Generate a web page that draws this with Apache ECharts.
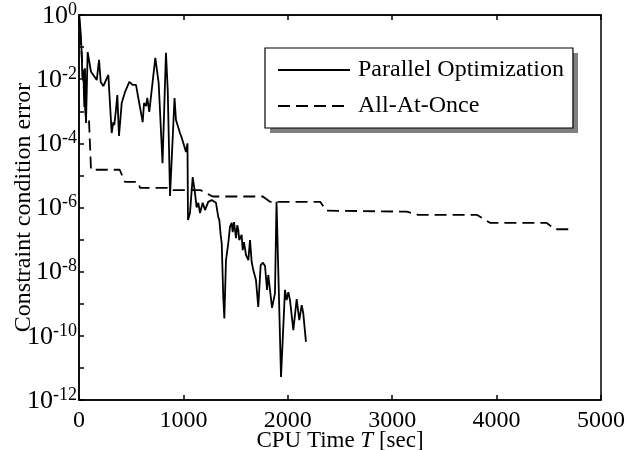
<!DOCTYPE html>
<html>
<head>
<meta charset="utf-8">
<script src="https://cdn.jsdelivr.net/npm/echarts@6/dist/echarts.min.js"></script>
<style>
  html, body { margin: 0; padding: 0; background: #fff; }
  #chart { width: 629px; height: 450px; }
</style>
</head>
<body>
<div id="chart"></div>
<script>
// CPU time [sec] and constraint condition error for the parallel optimization run
const parallelTime = [3, 16, 26, 32, 41, 51, 57, 67, 83, 115, 137, 170, 192, 208, 233, 281, 313, 329, 338, 354,
  367, 383, 409, 441, 482, 514, 546, 568, 610, 623, 642, 654, 673, 731, 763, 800, 833, 850, 872, 915,
  929, 945, 967, 984, 1025, 1039, 1044, 1063, 1089, 1111, 1127, 1143, 1159, 1185, 1207, 1238, 1271, 1312, 1334, 1344,
  1357, 1367, 1382, 1392, 1408, 1430, 1446, 1463, 1472, 1485, 1504, 1516, 1526, 1535, 1558, 1568, 1580, 1600, 1622, 1638,
  1654, 1670, 1695, 1717, 1740, 1762, 1782, 1801, 1813, 1849, 1877, 1892, 1935, 1973, 1989, 2005, 2021, 2053, 2085, 2110,
  2133, 2148, 2174];
const parallelError = [0.93, 0.28, 0.066, 0.011, 0.019, 1.35e-3, 0.022, 4.3e-4, 0.07, 0.017, 0.0135, 9.4e-3, 0.04, 8.2e-3, 6.1e-3, 0.0135, 2.1e-4, 4.6e-4, 3.7e-4, 1.1e-3,
  3.2e-3, 1.7e-4, 1.8e-3, 4.0e-3, 8.2e-3, 6.6e-3, 6.6e-3, 2.6e-3, 4.6e-4, 1.8e-3, 1.45e-3, 2.6e-3, 9.5e-4, 0.046, 7.6e-3, 2.4e-5, 0.066, 4.6e-3, 2.3e-6, 2.6e-3,
  5.3e-4, 4.6e-4, 2.1e-4, 1.5e-4, 5.4e-5, 1.0e-4, 4.1e-7, 6.7e-7, 8.9e-6, 2.8e-6, 1.0e-6, 1.4e-6, 6.7e-7, 1.4e-6, 8.3e-7, 1.5e-6, 1.7e-6, 1.4e-6, 5.0e-7, 4.1e-7,
  1.4e-7, 7.8e-8, 1.6e-9, 3.5e-10, 2.3e-8, 7.8e-8, 2.5e-7, 3.3e-7, 1.7e-7, 3.5e-7, 1.1e-7, 2.8e-7, 2.0e-7, 9.7e-8, 1.4e-7, 4.7e-8, 8.3e-8, 3.3e-8, 2.3e-8, 9.7e-8,
  2.0e-8, 1.1e-8, 5.5e-9, 7.9e-10, 1.6e-8, 1.9e-8, 1.5e-8, 2.7e-9, 7.9e-9, 7.4e-10, 2.1e-9, 1.5e-6, 5.2e-12, 2.7e-9, 1.3e-9, 2.3e-9, 1.3e-9, 1.5e-10, 1.4e-9, 3.1e-10,
  9.1e-10, 5.1e-10, 6.5e-11];

// CPU time [sec] and constraint condition error for the all-at-once run
const allAtOnceTime = [0, 65, 95, 115, 390, 440, 565, 585, 870, 900, 1160, 1280, 1760, 1830, 2310, 2370, 3140, 3250, 3810, 3940, 4480, 4560, 4720];
const allAtOnceError = [1.0, 6.5e-4, 6.0e-4, 1.5e-5, 1.5e-5, 6.3e-6, 6.3e-6, 4.1e-6, 4.1e-6, 3.5e-6, 3.5e-6, 2.2e-6, 2.2e-6, 1.5e-6, 1.5e-6, 8.0e-7, 7.4e-7, 5.9e-7, 5.9e-7, 3.3e-7, 3.3e-7, 2.1e-7, 2.1e-7];

const xTicks = [0, 1000, 2000, 3000, 4000, 5000];
const seriesNames = ['Parallel Optimization', 'All-At-Once'];

const FONT = 'Liberation Serif';

function pairs(xs, ys) {
  return xs.map((x, i) => [x, ys[i]]);
}

const chart = echarts.init(document.getElementById('chart'), null, { renderer: 'canvas' });

chart.setOption({
  animation: false,
  backgroundColor: '#fff',
  textStyle: { fontFamily: FONT },
  grid: {
    left: 79, right: 28, top: 15, bottom: 50,
    containLabel: false,
    outerBoundsMode: 'none',
    show: true, borderColor: '#000', borderWidth: 1.5, backgroundColor: 'transparent'
  },
  // flat grey drop shadow behind the legend box
  graphic: [{
    type: 'rect',
    left: 270, top: 53,
    shape: { width: 308, height: 80 },
    style: { fill: '#808080' },
    z: 1
  }],
  legend: {
    orient: 'vertical',
    left: 265, top: 48,
    padding: [10, 9, 10, 12],
    itemGap: 12,
    itemWidth: 72,
    itemHeight: 14,
    backgroundColor: '#fff',
    borderColor: '#000',
    borderWidth: 1.2,
    borderRadius: 0,
    itemStyle: { opacity: 0 },
    textStyle: { fontFamily: FONT, fontSize: 24, color: '#000', padding: [0, 0, 0, 3] },
    data: seriesNames
  },
  xAxis: [{
    type: 'value',
    min: xTicks[0], max: xTicks[xTicks.length - 1], interval: 1000,
    position: 'bottom',
    name: '{a|CPU Time }{i|T}{a| [sec]}',
    nameLocation: 'middle',
    nameGap: 29,
    nameMoveOverlap: false,
    nameTextStyle: {
      rich: {
        a: { fontFamily: FONT, fontSize: 23, color: '#000' },
        i: { fontFamily: FONT, fontSize: 23, color: '#000', fontStyle: 'italic' }
      }
    },
    axisLine: { show: true, lineStyle: { color: '#000', width: 1.5 } },
    axisTick: { show: true, inside: true, length: 5, lineStyle: { color: '#000', width: 1.5 } },
    axisLabel: { fontFamily: FONT, fontSize: 24, color: '#000', margin: 9, formatter: v => String(v) },
    splitLine: { show: false }
  }, {
    type: 'value',
    min: xTicks[0], max: xTicks[xTicks.length - 1], interval: 1000,
    position: 'top',
    axisLine: { show: true, lineStyle: { color: '#000', width: 1.5 } },
    axisTick: { show: true, inside: true, length: 5, lineStyle: { color: '#000', width: 1.5 } },
    axisLabel: { show: false },
    splitLine: { show: false }
  }],
  yAxis: {
    type: 'log',
    logBase: 10,
    min: 1e-12, max: 1,
    interval: 1,
    name: 'Constraint condition error',
    nameLocation: 'middle',
    nameRotate: 90,
    nameGap: 43,
    nameMoveOverlap: false,
    nameTextStyle: { fontFamily: FONT, fontSize: 24, color: '#000' },
    axisLine: { show: true, lineStyle: { color: '#000', width: 1.5 } },
    axisTick: { show: true, inside: true, length: 5, lineStyle: { color: '#000', width: 1.5 } },
    axisLabel: {
      margin: 2,
      formatter: function (v) {
        const e = Math.round(Math.log10(v));
        if (e % 2 !== 0) return '';
        return '{b|10}{e|' + e + '}';
      },
      rich: {
        b: { fontFamily: FONT, fontSize: 26, color: '#000', verticalAlign: 'bottom' },
        e: { fontFamily: FONT, fontSize: 18, color: '#000', verticalAlign: 'top', padding: [0, 0, 10, 0] }
      }
    },
    splitLine: { show: false }
  },
  series: [{
    name: seriesNames[0],
    type: 'line',
    data: pairs(parallelTime, parallelError),
    showSymbol: false,
    symbol: 'none',
    lineStyle: { color: '#000', width: 1.8, type: 'solid' },
    itemStyle: { color: '#000' },
    z: 3
  }, {
    name: seriesNames[1],
    type: 'line',
    data: pairs(allAtOnceTime, allAtOnceError),
    showSymbol: false,
    symbol: 'none',
    lineStyle: { color: '#000', width: 1.8, type: [12, 6] },
    itemStyle: { color: '#000' },
    z: 2
  }]
});
</script>
</body>
</html>
